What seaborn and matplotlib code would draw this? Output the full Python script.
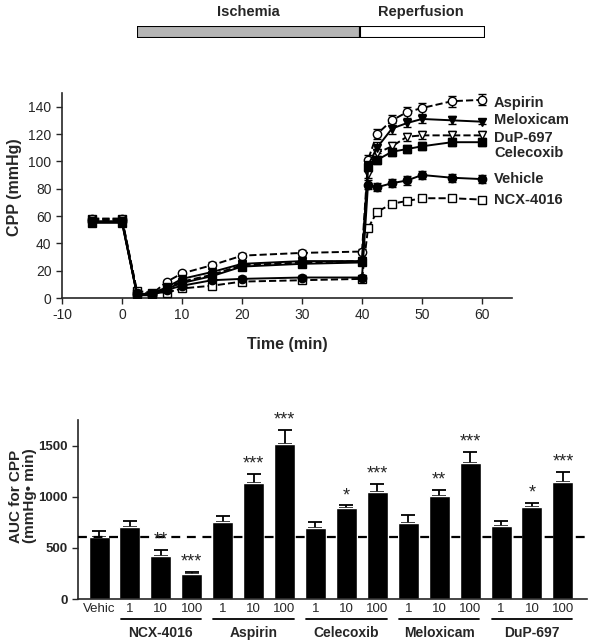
import numpy as np
import pandas as pd
import seaborn as sns
import matplotlib.pyplot as plt
from matplotlib.patches import Rectangle
from matplotlib.transforms import blended_transform_factory

sns.set_style("ticks")
plt.rcParams['font.family'] = ['Liberation Sans', 'DejaVu Sans']
plt.rcParams['axes.unicode_minus'] = False

# ---- top panel data (CPP over time) ----
time = [-5, 0, 2.5, 5, 7.5, 10, 15, 20, 30, 40, 41, 42.5, 45, 47.5, 50, 55, 60]
aspirin = [58, 58, 4, 3, 12, 18, 24, 31, 33, 34, 101, 120, 130, 136, 139, 144, 145]
meloxicam = [56, 56, 3, 3, 8, 14, 19, 25, 27, 27, 97, 110, 124, 128, 131, 130, 129]
dup697 = [57, 57, 3, 3, 8, 12, 17, 24, 26, 27, 91, 106, 111, 118, 119, 119, 119]
celecoxib = [55, 55, 3, 3, 7, 11, 16, 23, 25, 26, 96, 101, 107, 109, 111, 114, 114]
vehicle = [56, 56, 2, 2, 6, 9, 13, 14, 15, 15, 83, 81, 84, 86, 90, 88, 87]
ncx4016 = [58, 58, 5, 4, 4, 7, 9, 12, 13, 14, 51, 63, 69, 71, 73, 73, 72]

sem_aspirin = [2, 2, 1, 1, 1, 2, 2, 2, 2, 2, 4, 4, 4, 4, 4, 4, 4]
sem_meloxicam = [2, 2, 1, 1, 1, 2, 2, 2, 2, 2, 4, 4, 4, 3, 3, 3, 2]
sem_dup697 = [2, 2, 1, 1, 1, 2, 2, 2, 2, 2, 3, 3, 3, 3, 3, 3, 3]
sem_celecoxib = [2, 2, 1, 1, 1, 1, 2, 2, 2, 2, 3, 3, 3, 3, 3, 3, 3]
sem_vehicle = [2, 2, 1, 1, 1, 1, 2, 2, 2, 2, 3, 3, 3, 3, 3, 3, 3]
sem_ncx = [2, 2, 1, 1, 1, 1, 1, 1, 1, 1, 2, 2, 2, 2, 2, 2, 2]

series_names = ["Aspirin", "Meloxicam", "DuP-697", "Celecoxib", "Vehicle", "NCX-4016"]
label_y = [143, 130, 117, 106, 87, 71.5]

# ---- bottom panel data (AUC) ----
bar_labels = ["Vehic", "1", "10", "100", "1", "10", "100", "1", "10", "100",
              "1", "10", "100", "1", "10", "100"]
auc = [611, 703, 421, 245, 748, 1134, 1520, 699, 889, 1042, 742, 1010, 1330, 716, 899, 1140]
auc_err = [50, 55, 60, 20, 66, 88, 137, 50, 26, 82, 81, 59, 108, 42, 39, 98]
stars = ["", "", "**", "***", "", "***", "***", "", "*", "***", "", "**", "***", "", "*", "***"]
groups = ["NCX-4016", "Aspirin", "Celecoxib", "Meloxicam", "DuP-697"]

fig = plt.figure(figsize=(5.92, 6.4), dpi=100)

# ---- ischemia / reperfusion bar ----
axb = fig.add_axes([137 / 592, 1 - 38 / 640, 348 / 592, 12 / 640])
axb.set_xlim(0, 348)
axb.set_ylim(0, 1)
axb.add_patch(Rectangle((0, 0), 223, 1, facecolor="#b5b5b5", edgecolor="black", lw=1.5))
axb.add_patch(Rectangle((223, 0), 125, 1, facecolor="white", edgecolor="black", lw=1.5))
axb.axis("off")
fig.text(248 / 592, 1 - 12 / 640, "Ischemia", ha="center", va="center",
         fontsize=10.5, fontweight="bold")
fig.text(421 / 592, 1 - 12 / 640, "Reperfusion", ha="center", va="center",
         fontsize=10.5, fontweight="bold")

# ---- line panel ----
ax1 = fig.add_axes([62 / 592, 1 - 298 / 640, 450 / 592, 205 / 640])
# open-marker series first, filled ones drawn over them
styles = [
    (ncx4016, sem_ncx, "s", "white", "--"),
    (dup697, sem_dup697, "v", "white", "--"),
    (aspirin, sem_aspirin, "o", "white", "--"),
    (vehicle, sem_vehicle, "o", "black", "-"),
    (celecoxib, sem_celecoxib, "s", "black", "-"),
    (meloxicam, sem_meloxicam, "v", "black", "-"),
]
for vals, sem, mk, fc, ls in styles:
    ax1.errorbar(time, vals, yerr=sem, fmt="none", ecolor="black",
                 elinewidth=1.0, capsize=3, capthick=1.0, zorder=2)
    sns.lineplot(x=time, y=vals, ax=ax1, color="black", linestyle=ls, lw=1.4,
                 marker=mk, markersize=6, markerfacecolor=fc,
                 markeredgecolor="black", markeredgewidth=1.0, zorder=3)
for name, ly in zip(series_names, label_y):
    ax1.text(62, ly, name, ha="left", va="center", fontsize=10.5,
             fontweight="bold", clip_on=False)

ax1.set_xlim(-10, 65)
ax1.set_ylim(0, 150)
ax1.set_xticks(np.arange(-10, 61, 10))
ax1.set_yticks(np.arange(0, 141, 20))
ax1.tick_params(labelsize=10, length=4, width=1)
ax1.set_xlabel("Time (min)", fontsize=11.5, fontweight="bold")
ax1.set_ylabel("CPP (mmHg)", fontsize=11.5, fontweight="bold")
ax1.xaxis.set_label_coords(0.5, -0.19)
ax1.yaxis.set_label_coords(-0.089, 0.54)
sns.despine(ax=ax1)
for sp in ax1.spines.values():
    sp.set_linewidth(1.2)

# ---- bar panel ----
ax2 = fig.add_axes([78 / 592, 1 - 599 / 640, 509 / 592, 179 / 640])
pos = np.arange(len(auc))
df = pd.DataFrame({"pos": pos, "auc": auc})
sns.barplot(data=df, x="pos", y="auc", color="black", width=0.68,
            saturation=1, ax=ax2, zorder=2)
ax2.errorbar(pos, auc, yerr=[np.zeros(len(auc)), auc_err], fmt="none",
             ecolor="black", elinewidth=1.3, capsize=5, capthick=1.3, zorder=1)
ax2.axhline(auc[0], color="black", ls="--", lw=1.6, dashes=(4, 3), zorder=3)
for p, v, e, s in zip(pos, auc, auc_err, stars):
    if s:
        ax2.annotate(s, (p, v + e), xytext=(0, 1), textcoords="offset points",
                     ha="center", va="bottom", fontsize=13)

ax2.set_xlim(-0.68, 15.78)
ax2.set_ylim(0, 1750)
ax2.set_yticks([0, 500, 1000, 1500])
ax2.set_xticks(pos)
ax2.set_xticklabels(bar_labels, fontsize=9.5)
ax2.tick_params(axis="x", length=0, pad=3)
ax2.tick_params(axis="y", length=4, width=1, labelsize=9.5)
for t in ax2.get_yticklabels():
    t.set_fontweight("bold")
ax2.set_xlabel("")
ax2.set_ylabel("AUC for CPP\n(mmHg\u2022 min)", fontsize=11, fontweight="bold",
               linespacing=1.0)
ax2.yaxis.set_label_coords(-0.08, 0.575)
sns.despine(ax=ax2)
for sp in ax2.spines.values():
    sp.set_linewidth(1.2)

trans = blended_transform_factory(ax2.transData, ax2.transAxes)
for i, g in enumerate(groups):
    a = 1 + 3 * i
    ax2.plot([a - 0.3, a + 2.3], [-0.112, -0.112], color="black", lw=1.3,
             transform=trans, clip_on=False)
    ax2.text(a + 1, -0.19, g, transform=trans, ha="center", va="center",
             fontsize=10, fontweight="bold")

fig.savefig("out.png", dpi=100)
